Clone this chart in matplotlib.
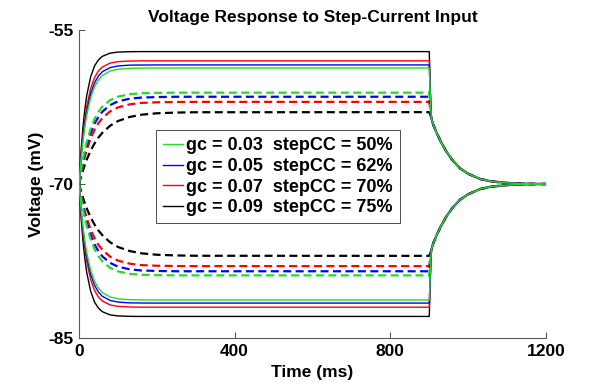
import matplotlib
matplotlib.use("Agg")
import matplotlib.pyplot as plt
from matplotlib.lines import Line2D

plt.rcParams['font.family'] = ['Liberation Sans', 'DejaVu Sans']

# ---------------- data (deflection from rest, mV) ----------------
rest = -70.0
time_rise = [0, 5, 10, 15, 20, 30, 40, 50, 60, 80, 100, 130, 160, 200, 250, 300, 900]
time_decay = [905, 910, 920, 930, 945, 960, 980, 1000, 1030, 1060, 1100, 1150, 1200]
decay_common = [6.5, 5.8, 4.9, 4.1, 3.1, 2.3, 1.5, 1.0, 0.5, 0.25, 0.1, 0.03, 0.0]

solid_green = [0, 2.29, 4.12, 5.58, 6.75, 8.41, 9.47, 10.14, 10.57, 11.01, 11.18, 11.27, 11.29, 11.3, 11.3, 11.3, 11.3]
solid_blue = [0, 2.46, 4.40, 5.92, 7.12, 8.82, 9.87, 10.53, 10.94, 11.34, 11.50, 11.58, 11.59, 11.6, 11.6, 11.6, 11.6]
solid_red = [0, 2.65, 4.72, 6.34, 7.58, 9.32, 10.38, 11.02, 11.40, 11.78, 11.92, 11.98, 12.0, 12.0, 12.0, 12.0, 12.0]
solid_black = [0, 3.13, 5.50, 7.29, 8.66, 10.46, 11.51, 12.10, 12.44, 12.75, 12.85, 12.89, 12.9, 12.9, 12.9, 12.9, 12.9]

dashed_green = [0, 1.29, 2.39, 3.33, 4.14, 5.41, 6.35, 7.03, 7.54, 8.17, 8.51, 8.75, 8.84, 8.88, 8.9, 8.9, 8.9]
dashed_blue = [0, 1.16, 2.17, 3.03, 3.78, 4.98, 5.88, 6.55, 7.05, 7.69, 8.05, 8.31, 8.42, 8.47, 8.5, 8.5, 8.5]
dashed_red = [0, 1.01, 1.90, 2.66, 3.34, 4.45, 5.29, 5.93, 6.42, 7.08, 7.46, 7.76, 7.90, 7.96, 7.99, 8.0, 8.0]
dashed_black = [0, 0.69, 1.32, 1.88, 2.39, 3.26, 3.96, 4.53, 4.99, 5.68, 6.13, 6.53, 6.75, 6.89, 6.96, 6.99, 7.0]

gc_values = ['0.03', '0.05', '0.07', '0.09']
stepcc_values = ['50%', '62%', '70%', '75%']
colors = ['#22dd22', '#0000ff', '#ff0000', '#000000']
solids = [solid_green, solid_blue, solid_red, solid_black]
dasheds = [dashed_green, dashed_blue, dashed_red, dashed_black]

xticks = [0, 400, 800, 1200]
yticks = [-85, -70, -55]

# ---------------- figure ----------------
fig = plt.figure(figsize=(6.0, 3.85), dpi=100)
ax = fig.add_axes([0.1317, 0.1221, 0.7783, 0.7999])

t = time_rise + time_decay

def trace(d, sign):
    full = list(d) + list(decay_common)
    return [rest + sign * v for v in full]

order = [3, 2, 1, 0]
for i in order:
    for s in (1, -1):
        ax.plot(t, trace(solids[i], s), color=colors[i], lw=1.0, solid_capstyle='butt', zorder=3)
for i in order:
    for s in (1, -1):
        ax.plot(t, trace(dasheds[i], s), color=colors[i], lw=1.6, dashes=(3.6, 2.0), zorder=2)

ax.set_xlim(0, 1200)
ax.set_ylim(-85, -55)
ax.set_xticks(xticks)
ax.set_yticks(yticks)
ax.set_xticklabels([str(v) for v in xticks], fontweight='bold', fontsize=12.5)
ax.set_yticklabels([str(v) for v in yticks], fontweight='bold', fontsize=12.5)
ax.tick_params(direction='in', length=4, width=0.7, color='0.3', pad=4)
for sp in ('top', 'right'):
    ax.spines[sp].set_visible(False)
for sp in ('left', 'bottom'):
    ax.spines[sp].set_color('0.35')
    ax.spines[sp].set_linewidth(0.8)

ax.set_xlabel('Time (ms)', fontweight='bold', fontsize=12.5, labelpad=5)
ax.set_ylabel('Voltage (mV)', fontweight='bold', fontsize=12.5, labelpad=3)
ax.set_title('Voltage Response to Step-Current Input', fontweight='bold', fontsize=12.5, pad=6)

handles = [Line2D([], [], color=c, lw=1.0) for c in colors]
labels = [f'gc = {g}  stepCC = {s}' for g, s in zip(gc_values, stepcc_values)]
leg = ax.legend(handles, labels, loc='upper left', bbox_to_anchor=(0.26, 0.662),
                bbox_transform=fig.transFigure, borderaxespad=0, fancybox=False,
                frameon=True, edgecolor='0.3', framealpha=1, handlelength=1.1,
                handletextpad=0.15, labelspacing=0.2, borderpad=0.4,
                prop={'weight': 'bold', 'size': 13})
leg.get_frame().set_linewidth(0.7)

fig.savefig('out.png', dpi=100)
